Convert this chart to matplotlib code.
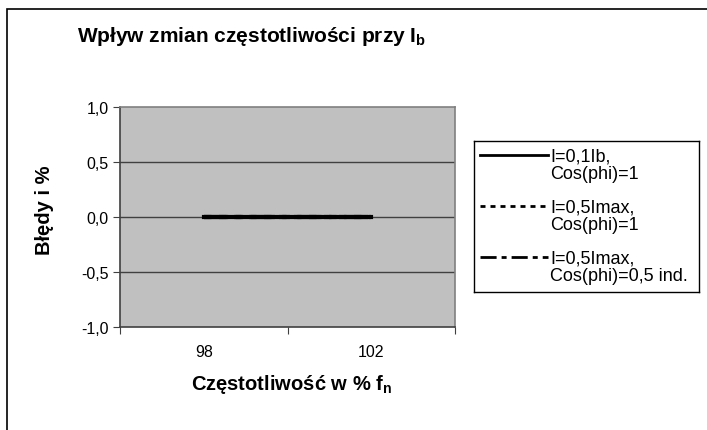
import matplotlib

matplotlib.use("Agg")
import matplotlib.pyplot as plt
from matplotlib.lines import Line2D
from matplotlib.patches import Rectangle

plt.rcParams["font.family"] = ["Liberation Sans", "DejaVu Sans"]
plt.rcParams["mathtext.fontset"] = "custom"
plt.rcParams["mathtext.rm"] = "Liberation Sans"
plt.rcParams["mathtext.bf"] = "Liberation Sans:bold"

# data
categories = ["98", "102"]
series_labels = [
    "I=0,1Ib,\nCos(phi)=1",
    "I=0,5Imax,\nCos(phi)=1",
    "I=0,5Imax,\nCos(phi)=0,5 ind.",
]
series_values = [
    [0.0, 0.0],
    [0.0, 0.0],
    [0.0, 0.0],
]
yticks = [-1.0, -0.5, 0.0, 0.5, 1.0]

W, H = 707, 431
fig = plt.figure(figsize=(W / 100, H / 100), dpi=100)


def px(x0, y0, x1, y1):
    # pixel box (top-left origin) -> figure fraction rect
    return [x0 / W, 1 - y1 / H, (x1 - x0) / W, (y1 - y0) / H]


# outer chart border
fig.patches.append(Rectangle((7 / W, -0.1), 1.1, 1 - 10 / H + 0.1,
                             transform=fig.transFigure, fill=False,
                             edgecolor="black", lw=1.2))

ax = fig.add_axes(px(120, 108, 455, 328))
ax.set_facecolor("#c0c0c0")

styles = [
    dict(linestyle="-"),
    dict(linestyle=(0, (1.8, 1.8))),
    dict(linestyle=(0, (5.8, 1.8, 1.8, 1.8))),
]
x = list(range(len(categories)))
for vals, st in zip(series_values, styles):
    ax.plot(x, vals, color="black", lw=3, zorder=3, **st)

ax.set_xlim(-0.5, len(categories) - 0.5)
ax.set_ylim(-1.0, 1.0)
ax.set_yticks(yticks)
ax.set_yticklabels([f"{v:.1f}".replace(".", ",") for v in yticks])
for v in yticks[1:-1]:
    ax.axhline(v, color="#404040", lw=1, zorder=1)

ax.set_xticks([i - 0.5 for i in range(len(categories) + 1)])
ax.set_xticklabels([])
ax.set_xticks(x, minor=True)
ax.set_xticklabels(categories, minor=True)
ax.tick_params(axis="x", which="minor", length=0, pad=12, labelsize=11.5)
ax.tick_params(axis="x", which="major", length=5, direction="out",
               color="#404040")
ax.tick_params(axis="y", length=5, direction="out", labelsize=11.5,
               pad=3, color="#404040")

for side in ("left", "bottom"):
    ax.spines[side].set_color("#404040")
    ax.spines[side].set_linewidth(1.2)
for side in ("top", "right"):
    ax.spines[side].set_color("#808080")
    ax.spines[side].set_linewidth(1.2)

fig.text(252 / W, 1 - 37 / H,
         r"Wpływ zmian częstotliwości przy $\mathbf{I_b}$",
         ha="center", va="center", fontsize=15, fontweight="bold")
fig.text(292 / W, 1 - 385 / H, r"Częstotliwość w % $\mathbf{f_n}$",
         ha="center", va="center", fontsize=14.5, fontweight="bold")
fig.text(45 / W, 1 - 210 / H, "Błędy i %", ha="center", va="center",
         rotation=90, fontsize=14.5, fontweight="bold")

# legend box, drawn by hand so the key sits on the first text line
lax = fig.add_axes(px(474, 142, 699, 293))
lax.set_xlim(474, 699)
lax.set_ylim(293, 142)
lax.set_xticks([])
lax.set_yticks([])
for s in lax.spines.values():
    s.set_color("black")
    s.set_linewidth(1)
for i, (lab, st) in enumerate(zip(series_labels, styles)):
    y0 = 156 + 51 * i
    lax.add_line(Line2D([480, 548], [y0, y0], color="black", lw=2, **st))
    lax.text(550, y0 + 10, lab, ha="left", va="center", fontsize=13,
             linespacing=1.05)

fig.savefig("out.png", dpi=100)
